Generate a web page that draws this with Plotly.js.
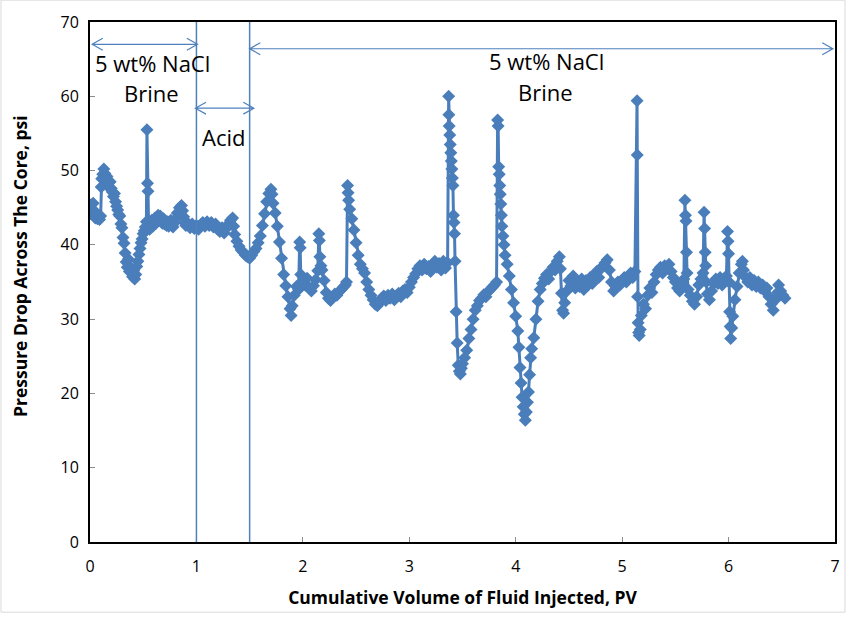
<!DOCTYPE html>
<html>
<head>
<meta charset="utf-8">
<script src="https://cdn.plot.ly/plotly-3.0.1.min.js"></script>
<style>
  html, body { margin: 0; padding: 0; background: #fff; }
  #chart { width: 847px; height: 621px; }
</style>
</head>
<body>
<div id="chart"></div>
<script>
// Cumulative volume injected (PV)
const pvInjected = [
  0.00,0.01,0.02,0.03,0.04,0.05,0.06,0.07,0.08,0.09,0.10,0.105,0.11,0.12,0.13,0.14,0.15,0.16,0.17,0.18,0.19,
  0.20,0.21,0.22,0.23,0.24,0.25,0.26,0.27,0.28,0.29,0.30,0.31,0.32,0.33,0.34,0.35,0.36,0.37,0.38,0.39,
  0.40,0.41,0.42,0.43,0.44,0.45,0.46,0.47,0.48,0.49,0.50,0.51,0.52,0.53,0.535,0.54,0.545,0.55,0.56,0.57,0.58,0.59,
  0.60,0.61,0.62,0.63,0.64,0.65,0.66,0.67,0.68,0.69,0.70,0.71,0.72,0.73,0.74,0.75,0.76,0.77,0.78,0.79,
  0.80,0.82,0.84,0.86,0.87,0.88,0.89,0.90,0.92,0.94,0.96,0.98,
  1.00,1.02,1.04,1.06,1.08,1.10,1.12,1.14,1.16,1.18,1.20,1.22,1.24,1.26,1.28,1.30,1.32,1.34,1.35,1.36,1.38,
  1.40,1.42,1.44,1.46,1.48,1.50,1.52,1.54,1.56,1.58,1.60,1.62,1.64,1.66,1.68,1.70,1.71,1.72,1.74,1.76,1.78,
  1.80,1.82,1.84,1.86,1.88,1.89,1.90,1.92,1.94,1.96,1.97,1.975,1.98,1.985,
  2.00,2.02,2.04,2.06,2.08,2.10,2.12,2.14,2.15,2.155,2.16,2.17,2.18,2.20,2.22,2.24,2.26,2.28,2.30,2.32,2.34,2.36,2.38,
  2.40,2.41,2.42,2.425,2.43,2.44,2.46,2.48,2.50,2.52,2.54,2.56,2.58,2.60,2.62,2.64,2.66,2.68,2.70,2.72,2.74,2.76,2.78,
  2.80,2.82,2.84,2.86,2.88,2.90,2.92,2.94,2.96,2.98,
  3.00,3.02,3.04,3.06,3.08,3.10,3.12,3.14,3.16,3.18,3.20,3.22,3.24,3.26,3.28,3.30,3.32,3.34,3.36,
  3.37,3.372,3.375,3.38,3.385,3.39,3.395,3.40,3.405,3.41,3.415,3.42,3.425,3.43,3.44,3.45,3.46,3.47,3.48,3.49,
  3.50,3.52,3.54,3.56,3.58,3.60,3.62,3.64,3.66,3.68,3.70,3.72,3.74,3.76,3.78,3.80,3.82,
  3.83,3.835,3.84,3.845,3.85,3.855,3.86,3.865,3.87,3.88,3.89,3.90,3.92,3.94,3.96,3.98,
  4.00,4.02,4.03,4.04,4.05,4.06,4.07,4.08,4.09,4.10,4.11,4.12,4.13,4.14,4.15,4.17,4.19,
  4.21,4.23,4.25,4.27,4.29,4.31,4.33,4.35,4.37,4.39,4.41,4.42,4.43,4.44,4.45,4.46,4.48,
  4.50,4.52,4.54,4.56,4.58,4.60,4.62,4.64,4.66,4.68,4.70,4.72,4.74,4.76,4.78,
  4.80,4.82,4.84,4.86,4.88,4.90,4.92,4.94,4.96,4.98,
  5.00,5.02,5.04,5.06,5.08,5.10,5.12,5.14,5.142,5.145,5.15,5.155,5.16,5.17,5.18,
  5.20,5.22,5.24,5.26,5.28,5.30,5.32,5.34,5.36,5.38,5.40,5.42,5.44,5.46,5.48,
  5.50,5.52,5.54,5.56,5.58,5.59,5.595,5.60,5.605,5.61,5.62,5.64,5.66,5.68,
  5.70,5.72,5.74,5.76,5.77,5.775,5.78,5.785,5.79,5.80,5.82,5.84,5.86,5.88,
  5.90,5.92,5.94,5.96,5.98,5.99,5.995,6.00,6.005,6.01,6.015,6.02,6.03,6.04,6.06,6.08,
  6.10,6.12,6.13,6.14,6.16,6.18,6.20,6.22,6.24,6.26,6.28,6.30,6.32,6.34,6.36,6.38,
  6.40,6.42,6.44,6.46,6.47,6.49,6.51,6.53
];

// Pressure drop across the core (psi)
const pressureDrop = [
  44.2,45.4,44.8,45.6,44.5,43.6,44.3,43.5,44.0,43.4,43.9,47.8,48.9,49.5,50.2,49.6,48.6,49.2,48.3,47.7,48.5,
  47.6,47.1,46.5,46.9,45.8,45.2,44.7,44.1,43.9,42.8,42.3,41.0,40.2,38.9,37.7,37.0,38.1,36.4,37.0,36.2,
  35.7,36.5,35.4,36.0,37.1,37.8,38.7,39.5,40.3,40.8,41.5,41.9,42.4,43.1,55.5,48.3,47.2,43.2,42.1,42.8,43.3,42.5,
  43.1,43.6,42.9,43.5,44.0,43.3,43.9,43.4,42.9,43.5,42.8,43.2,42.6,43.1,42.5,42.9,43.3,42.6,42.4,42.9,
  43.4,44.3,45.0,45.3,44.6,43.8,43.0,42.6,42.9,42.3,42.8,42.2,
  42.6,42.1,42.7,43.0,42.5,43.1,42.6,43.0,42.4,42.8,42.1,41.8,42.3,41.6,42.2,42.8,43.3,43.6,42.5,41.4,40.5,
  39.8,39.3,39.0,38.6,38.4,38.2,38.6,39.1,39.5,40.3,41.2,42.6,44.2,45.8,46.9,47.5,46.8,45.6,44.3,42.5,40.4,
  38.2,36.0,34.5,33.0,31.4,30.5,31.8,33.2,34.4,34.0,40.4,39.6,36.0,34.5,
  35.2,34.6,35.5,34.2,33.8,34.5,35.3,36.5,41.5,40.6,38.4,37.2,36.6,35.2,33.6,32.8,32.5,33.0,33.4,33.2,33.7,34.0,34.3,
  34.6,35.0,48.0,47.0,46.0,44.8,43.5,42.0,40.3,38.6,37.4,36.8,36.2,35.0,34.0,33.2,32.6,32.0,31.8,32.2,32.8,33.1,32.5,
  33.2,32.8,33.4,32.6,33.1,33.5,33.0,33.8,34.0,33.6,
  34.3,35.0,35.6,36.1,36.8,37.2,36.6,37.4,36.8,37.1,36.4,37.3,37.8,37.0,37.5,36.6,37.8,36.9,37.6,
  60.0,57.5,56.0,54.8,53.5,52.4,51.3,50.2,49.0,48.0,44.0,43.0,41.5,37.8,31.0,26.8,23.8,23.0,22.6,23.4,
  24.0,24.8,25.8,27.4,28.6,30.0,31.2,31.8,32.5,32.8,33.3,33.0,33.7,34.0,34.3,34.6,35.0,
  56.8,56.0,50.5,49.5,48.0,46.8,45.5,44.0,42.5,41.2,40.0,38.6,37.4,35.8,34.0,32.2,
  30.4,28.4,26.2,23.5,21.4,19.5,18.2,17.2,16.4,17.5,18.8,20.2,22.5,24.8,26.0,27.5,30.0,
  32.4,34.0,34.8,35.5,36.0,35.4,36.4,37.0,36.6,37.8,38.4,36.8,33.5,31.2,30.8,32.2,33.8,
  35.2,34.5,35.8,34.2,35.0,34.4,35.4,34.0,35.2,34.6,35.6,34.8,35.8,36.4,35.6,
  36.8,37.2,37.6,38.0,36.6,35.0,33.8,34.4,35.0,34.6,
  35.2,35.6,35.0,35.8,36.2,35.6,36.4,59.4,52.1,33.0,29.5,28.2,27.8,28.6,30.5,
  32.0,31.4,33.2,34.2,33.6,35.0,36.0,36.6,37.0,36.2,37.2,36.8,37.4,36.4,35.6,
  35.0,34.2,33.8,34.6,35.4,46.0,44.0,43.2,39.0,36.2,34.0,33.2,32.4,32.0,
  33.0,34.6,35.4,36.2,44.4,42.2,39.0,37.2,35.0,33.4,32.6,33.8,34.8,35.4,
  34.8,35.6,34.6,35.2,35.8,41.8,40.5,38.8,35.0,31.0,29.0,27.4,28.8,30.4,32.6,34.4,
  36.2,37.4,37.8,36.6,35.6,35.0,35.6,34.6,35.2,34.4,35.0,34.2,34.6,33.8,34.2,33.0,
  32.0,31.2,32.6,33.6,34.6,33.8,33.2,32.8
];

const xTickVals = [0,1,2,3,4,5,6,7];
const yTickVals = [0,10,20,30,40,50,60,70];

const blue = '#4A7EBB';
const lineBlue = '#4F81BD';
const FONT = "'Open Sans', 'Liberation Sans', sans-serif";

const trace = {
  x: pvInjected,
  y: pressureDrop,
  type: 'scatter',
  mode: 'lines+markers',
  line: { color: blue, width: 3 },
  marker: { symbol: 'diamond', size: 10, color: blue, line: { width: 0 } },
  hoverinfo: 'x+y',
  showlegend: false
};

// double-headed open arrows as paths (data coords)
function arrowPath(x0, x1, y) {
  const dx = 0.1, dy = 0.8;
  return `M ${x0},${y} L ${x1},${y} ` +
         `M ${x0 + dx},${y + dy} L ${x0},${y} L ${x0 + dx},${y - dy} ` +
         `M ${x1 - dx},${y + dy} L ${x1},${y} L ${x1 - dx},${y - dy}`;
}

const shapes = [
  { type: 'line', xref: 'x', yref: 'y', x0: 1, x1: 1, y0: 0, y1: 70, line: { color: lineBlue, width: 1.5 } },
  { type: 'line', xref: 'x', yref: 'y', x0: 1.5, x1: 1.5, y0: 0, y1: 70, line: { color: lineBlue, width: 1.5 } },
  { type: 'path', xref: 'x', yref: 'y', path: arrowPath(0.02, 1.01, 67.0), line: { color: lineBlue, width: 1.2 } },
  { type: 'path', xref: 'x', yref: 'y', path: arrowPath(0.99, 1.54, 58.4), line: { color: lineBlue, width: 1.2 } },
  { type: 'path', xref: 'x', yref: 'y', path: arrowPath(1.50, 6.98, 66.4), line: { color: lineBlue, width: 1.2 } },
  { type: 'rect', xref: 'paper', yref: 'paper', x0: -0.1195, x1: 1.0134, y0: -0.135, y1: 1.042,
    line: { color: '#D9D9D9', width: 1 }, layer: 'below' }
];

const txt = (t, x, y) => ({ text: t, x: x, y: y, xref: 'x', yref: 'y', showarrow: false,
  xanchor: 'center', yanchor: 'middle', font: { family: FONT, size: 22, color: '#000' } });

const annotations = [
  txt('5 wt% NaCl', 0.585, 64.5),
  txt('Brine', 0.578, 60.4),
  txt('Acid', 1.255, 54.5),
  txt('5 wt% NaCl', 4.29, 64.7),
  txt('Brine', 4.28, 60.6),
  { text: '<b>Pressure Drop Across The Core, psi</b>', xref: 'paper', yref: 'paper',
    x: (20 - 90) / 745, y: (542 - 266) / 520, textangle: -90, showarrow: false,
    xanchor: 'center', yanchor: 'middle', font: { family: FONT, size: 17.5, color: '#000' } }
];

const layout = {
  width: 847, height: 621,
  margin: { l: 90, r: 12, t: 22, b: 79, pad: 0 },
  paper_bgcolor: '#fff', plot_bgcolor: '#fff',
  font: { family: FONT, color: '#000' },
  xaxis: {
    range: [0, 7], tickvals: xTickVals, ticktext: xTickVals.map(String),
    showgrid: false, zeroline: false,
    showline: true, mirror: true, linecolor: '#000', linewidth: 2,
    ticks: 'inside', ticklen: 5, tickcolor: '#8C8C8C', tickwidth: 1,
    ticklabelstandoff: 9,
    tickfont: { family: FONT, size: 16, color: '#000' },
    title: { text: '<b>Cumulative Volume of Fluid Injected, PV</b>', font: { family: FONT, size: 17.5, color: '#000' }, standoff: 16 }
  },
  yaxis: {
    range: [0, 70], tickvals: yTickVals, ticktext: yTickVals.map(String),
    showgrid: false, zeroline: false,
    showline: true, mirror: true, linecolor: '#000', linewidth: 2,
    ticks: 'inside', ticklen: 5, tickcolor: '#8C8C8C', tickwidth: 1,
    ticklabelstandoff: 6,
    tickfont: { family: FONT, size: 16, color: '#000' }
  },
  shapes: shapes,
  annotations: annotations,
  showlegend: false
};

Plotly.newPlot('chart', [trace], layout, { displayModeBar: false, staticPlot: true });
</script>
</body>
</html>
